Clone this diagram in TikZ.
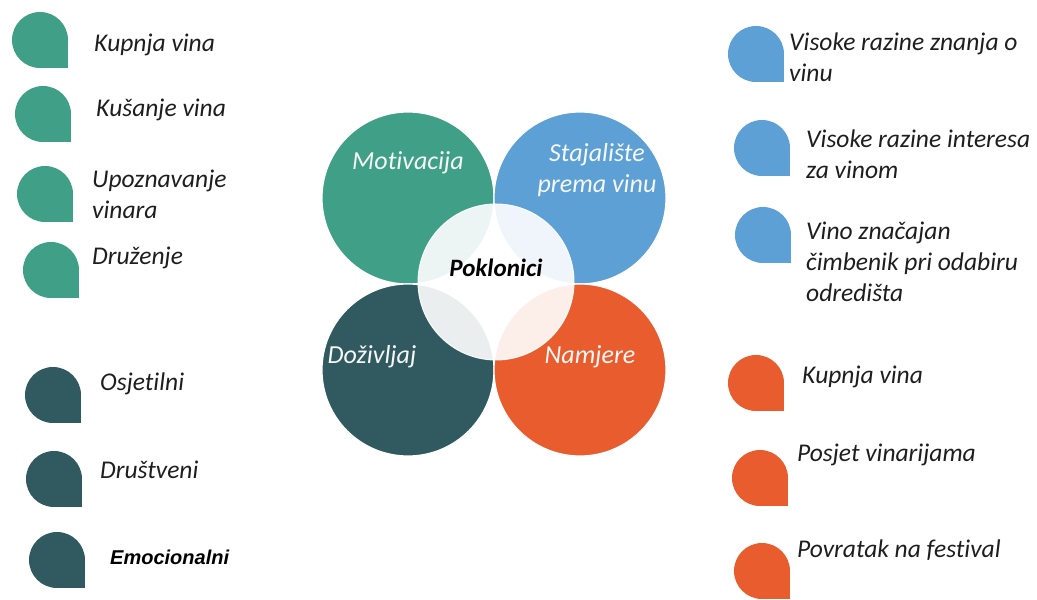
\documentclass[tikz,border=0pt]{standalone}
\usepackage{fontspec}
\setmainfont[Ligatures={NoCommon}]{Carlito}
\newfontfamily\arialfont{Liberation Sans}
\definecolor{cteal}{RGB}{64,160,135}
\definecolor{cblue}{RGB}{92,160,213}
\definecolor{cdark}{RGB}{48,90,95}
\definecolor{corange}{RGB}{232,92,46}
\definecolor{ctext}{RGB}{30,30,30}
\begin{document}
\begin{tikzpicture}[x=1pt,y=1pt,
  drop/.pic={\fill[#1] (0,0) circle (28); \fill[#1] (0,0) rectangle (28,-28);},
  big/.style={circle,minimum size=172,inner sep=0,draw=white,line width=1.2},
  ctxt/.style={text=white!94!gray,font=\fontsize{26}{31}\selectfont\itshape,align=center},
  item/.style={anchor=west,text=ctext,font=\fontsize{25.5}{31}\selectfont\itshape,align=left,inner sep=0}]
\useasboundingbox (0,0) rectangle (1037,600);
% big circles (y-up: y = 600 - ypx)
\node[big,fill=cteal] (mot) at (408,402) {};
\node[big,fill=cblue] (sta) at (580,402) {};
\node[big,fill=cdark] (dož) at (408,230) {};
\node[big,fill=corange] (nam) at (580,230) {};
\node[circle,minimum size=156,inner sep=0,fill=white,fill opacity=0.9,draw=white,draw opacity=0.9,line width=1] (pok) at (496,318) {};
\node[font=\fontsize{25}{30}\selectfont\bfseries\itshape,text=black] (pokt) at (496,332) {Poklonici};
\node[ctxt] (mott) at (408,437) {Motivacija};
\node[ctxt] (stat) at (597,430) {Stajalište\\prema vinu};
\node[ctxt] (dožt) at (372,243) {Doživljaj};
\node[ctxt] (namt) at (590,243) {Namjere};
% teal bullets
\pic at (40,560) {drop=cteal};
\pic at (43,486) {drop=cteal};
\pic at (45,406) {drop=cteal};
\pic at (51,330) {drop=cteal};
\node[item] (t1) at (94,555) {Kupnja vina};
\node[item] (t2) at (96,490) {Kušanje vina};
\node[item] (t3) at (92,406) {Upoznavanje\\vinara};
\node[item] (t4) at (92,342) {Druženje};
% dark bullets
\pic at (53,205) {drop=cdark};
\pic at (54,121) {drop=cdark};
\pic at (57,40) {drop=cdark};
\node[item] (d1) at (100,216) {Osjetilni};
\node[item] (d2) at (100,130) {Društveni};
\node[item,font=\arialfont\fontsize{20}{24}\selectfont\bfseries\itshape,text=black] (d3) at (110,43) {Emocionalni};
% blue bullets
\pic at (756,546) {drop=cblue};
\pic at (762,452) {drop=cblue};
\pic at (763,365) {drop=cblue};
\node[item] (b1) at (789,543) {Visoke razine znanja o\\vinu};
\node[item] (b2) at (806,446) {Visoke razine interesa\\za vinom};
\node[item] (b3) at (806,338) {Vino značajan\\čimbenik pri odabiru\\odredišta};
% orange bullets
\pic at (756,217) {drop=corange};
\pic at (760,122) {drop=corange};
\pic at (762,29) {drop=corange};
\node[item] (o1) at (802,223) {Kupnja vina};
\node[item] (o2) at (797,145) {Posjet vinarijama};
\node[item] (o3) at (797,50) {Povratak na festival};
\end{tikzpicture}
\end{document}
